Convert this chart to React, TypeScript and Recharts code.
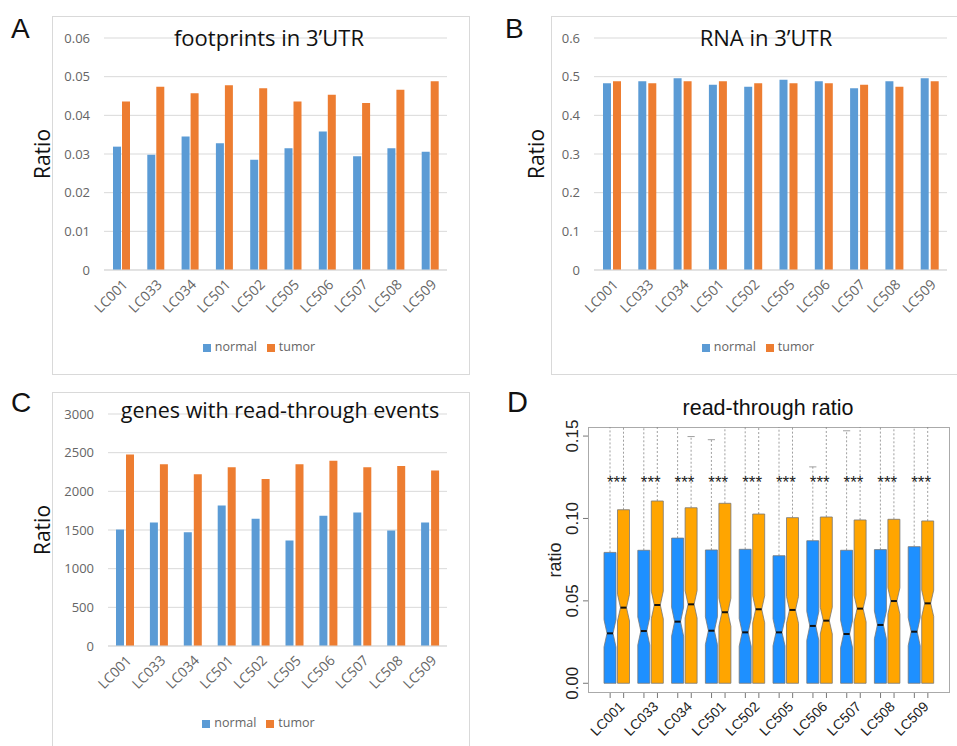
import React from 'react';
import {
  BarChart,
  Bar,
  XAxis,
  YAxis,
  CartesianGrid,
  Legend,
  ComposedChart,
  Scatter,
} from 'recharts';

// ---------- data ----------
const SAMPLES = ['LC001', 'LC033', 'LC034', 'LC501', 'LC502', 'LC505', 'LC506', 'LC507', 'LC508', 'LC509'];

// A: footprints in 3'UTR
const FOOT_NORMAL = [0.0319, 0.0298, 0.0345, 0.0328, 0.0285, 0.0315, 0.0358, 0.0294, 0.0315, 0.0306];
const FOOT_TUMOR = [0.0436, 0.0474, 0.0457, 0.0478, 0.047, 0.0436, 0.0453, 0.0432, 0.0466, 0.0488];
const FOOT_TICKS = [0, 0.01, 0.02, 0.03, 0.04, 0.05, 0.06];

// B: RNA in 3'UTR
const RNA_NORMAL = [0.483, 0.488, 0.496, 0.479, 0.474, 0.492, 0.488, 0.47, 0.488, 0.496];
const RNA_TUMOR = [0.488, 0.483, 0.488, 0.488, 0.483, 0.483, 0.483, 0.479, 0.474, 0.488];
const RNA_TICKS = [0, 0.1, 0.2, 0.3, 0.4, 0.5, 0.6];

// C: genes with read-through events
const GENES_NORMAL = [1506, 1597, 1472, 1818, 1645, 1364, 1684, 1727, 1494, 1597];
const GENES_TUMOR = [2476, 2351, 2221, 2312, 2160, 2351, 2394, 2312, 2329, 2268];
const GENES_TICKS = [0, 500, 1000, 1500, 2000, 2500, 3000];

// D: read-through ratio (notched box plots; lower quartile at 0)
const RT_NORMAL_Q3 = [0.0794, 0.0807, 0.0881, 0.0809, 0.0813, 0.0774, 0.0865, 0.0807, 0.0811, 0.0829];
const RT_NORMAL_MED = [0.0303, 0.0317, 0.0374, 0.0319, 0.0309, 0.0309, 0.0348, 0.0299, 0.0354, 0.0313];
const RT_NORMAL_NOTCH = [0.0083, 0.0085, 0.0088, 0.0084, 0.0084, 0.0082, 0.0087, 0.0084, 0.0084, 0.0085];
const RT_NORMAL_WHISKER = [0.17, 0.17, 0.17, 0.1478, 0.17, 0.17, 0.1313, 0.1532, 0.17, 0.17];
const RT_TUMOR_Q3 = [0.1053, 0.1106, 0.1065, 0.1092, 0.1027, 0.1005, 0.1009, 0.0991, 0.0995, 0.0985];
const RT_TUMOR_MED = [0.0459, 0.0475, 0.0479, 0.0431, 0.0449, 0.0445, 0.038, 0.0453, 0.0499, 0.0485];
const RT_TUMOR_NOTCH = [0.0081, 0.0084, 0.0083, 0.0085, 0.0082, 0.0081, 0.0081, 0.008, 0.008, 0.008];
const RT_TUMOR_WHISKER = [0.17, 0.17, 0.1497, 0.17, 0.17, 0.17, 0.17, 0.17, 0.17, 0.17];
const RT_SIG = ['***', '***', '***', '***', '***', '***', '***', '***', '***', '***'];
const RT_SIG_Y = 0.1247;
const RT_TICKS = [0, 0.05, 0.1, 0.15];
const RT_DOMAIN: [number, number] = [-0.0059, 0.1555];

// ---------- tables ----------
const footData = SAMPLES.map((name, i) => ({ name, normal: FOOT_NORMAL[i], tumor: FOOT_TUMOR[i] }));
const rnaData = SAMPLES.map((name, i) => ({ name, normal: RNA_NORMAL[i], tumor: RNA_TUMOR[i] }));
const genesData = SAMPLES.map((name, i) => ({ name, normal: GENES_NORMAL[i], tumor: GENES_TUMOR[i] }));
const rtData = SAMPLES.map((name, i) => ({
  name,
  nQ3: RT_NORMAL_Q3[i],
  nMed: RT_NORMAL_MED[i],
  nNotch: RT_NORMAL_NOTCH[i],
  nWhisk: RT_NORMAL_WHISKER[i],
  tQ3: RT_TUMOR_Q3[i],
  tMed: RT_TUMOR_MED[i],
  tNotch: RT_TUMOR_NOTCH[i],
  tWhisk: RT_TUMOR_WHISKER[i],
  sig: RT_SIG[i],
  sigY: RT_SIG_Y,
}));

// ---------- styles ----------
const XL_FONT = '"Open Sans", "Noto Sans", sans-serif';
const R_FONT = '"Liberation Sans", Arial, sans-serif';
const XL_BLUE = '#5B9BD5';
const XL_ORANGE = '#ED7D31';
const XL_GRID = '#D9D9D9';
const XL_TEXT = '#656565';
const R_BLUE = '#1E90FF';
const R_ORANGE = '#FFA500';
const BOX_W = 12;
const BOX_GAP = 1.5;

const XlXTick = (props: any) => {
  const { x, y, payload } = props;
  const ax = x + 4;
  const ay = y + 12;
  return (
    <text
      x={ax}
      y={ay}
      dy="0.35em"
      transform={`rotate(-45 ${ax} ${ay})`}
      textAnchor="end"
      fontSize={14}
      fontFamily={XL_FONT}
      fill={XL_TEXT}
    >
      {payload.value}
    </text>
  );
};

const legendFormatter = (v: string) => <span style={{ color: XL_TEXT }}>{v}</span>;

type XlProps = {
  data: any[];
  ticks: number[];
  width: number;
  marginLeft: number;
  yAxisWidth: number;
  labelOffset: number;
  barGap: number;
};

const XlBarChart = ({ data, ticks, width, marginLeft, yAxisWidth, labelOffset, barGap }: XlProps) => (
  <BarChart
    width={width}
    height={358}
    data={data}
    margin={{ top: 22, right: 23, left: marginLeft, bottom: 17 }}
    barGap={barGap}
  >
    <CartesianGrid horizontal vertical={false} stroke={XL_GRID} strokeWidth={1} />
    <XAxis
      dataKey="name"
      height={67}
      tickLine={false}
      tickSize={0}
      tickMargin={0}
      axisLine={{ stroke: XL_GRID }}
      interval={0}
      tick={<XlXTick />}
    />
    <YAxis
      width={yAxisWidth}
      domain={[ticks[0], ticks[ticks.length - 1]]}
      ticks={ticks}
      interval={0}
      tickLine={false}
      axisLine={false}
      tickSize={0}
      tickMargin={14}
      tick={{ fontSize: 13, fontFamily: XL_FONT, fill: XL_TEXT }}
      label={{
        value: 'Ratio',
        angle: -90,
        position: 'insideLeft',
        offset: labelOffset,
        style: { textAnchor: 'middle', fontSize: 21, fontFamily: XL_FONT, fill: '#111' },
      }}
    />
    <Legend
      verticalAlign="bottom"
      align="center"
      iconType="square"
      iconSize={8}
      formatter={legendFormatter}
      wrapperStyle={{ fontSize: 12.5, fontFamily: XL_FONT, height: 20, lineHeight: '20px' }}
    />
    <Bar dataKey="normal" name="normal" fill={XL_BLUE} barSize={8} isAnimationActive={false} />
    <Bar dataKey="tumor" name="tumor" fill={XL_ORANGE} barSize={8} isAnimationActive={false} />
  </BarChart>
);

// ---------- panel D helpers ----------
const makeBoxShape = (prefix: 'n' | 't', fill: string) => (props: any) => {
  const { x, y, width, height, payload } = props;
  const q3 = payload[prefix + 'Q3'];
  const med = payload[prefix + 'Med'];
  const notch = payload[prefix + 'Notch'];
  const whisk = payload[prefix + 'Whisk'];
  const ppu = height / q3;
  const base = y + height;
  const py = (v: number) => base - v * ppu;
  const topPx = py(RT_DOMAIN[1]);
  const medPx = py(med);
  const nLo = py(med - notch);
  const nHi = py(med + notch);
  const wPx = py(whisk);
  const wDraw = Math.max(wPx, topPx);
  const cx = x + width / 2;
  const inset = width / 4;
  const d = `M${x},${base} L${x},${nLo} L${x + inset},${medPx} L${x},${nHi} L${x},${y} L${x + width},${y} L${x + width},${nHi} L${x + width - inset},${medPx} L${x + width},${nLo} L${x + width},${base} Z`;
  return (
    <g>
      <line x1={cx} x2={cx} y1={y} y2={wDraw} stroke="#888" strokeWidth={0.8} strokeDasharray="2 2" />
      {wPx >= topPx && (
        <line x1={cx - width * 0.3} x2={cx + width * 0.3} y1={wPx} y2={wPx} stroke="#888" strokeWidth={0.8} />
      )}
      <path d={d} fill={fill} stroke="#777" strokeWidth={0.8} />
      <line x1={x + inset} x2={x + width - inset} y1={medPx} y2={medPx} stroke="#111" strokeWidth={2} />
    </g>
  );
};

const normalBox = makeBoxShape('n', R_BLUE);
const tumorBox = makeBoxShape('t', R_ORANGE);

const RtXTick = (props: any) => {
  const { x, y, payload } = props;
  const off = (BOX_W + BOX_GAP) / 2;
  const ax = x + 5;
  const ay = y + 11;
  return (
    <g>
      <line x1={x - off} x2={x - off} y1={y} y2={y + 5} stroke="#777" />
      <line x1={x + off} x2={x + off} y1={y} y2={y + 5} stroke="#777" />
      <text
        x={ax}
        y={ay}
        dy="0.35em"
        transform={`rotate(-45 ${ax} ${ay})`}
        textAnchor="end"
        fontSize={14}
        fontFamily={R_FONT}
        fill="#222"
      >
        {payload.value}
      </text>
    </g>
  );
};

const RtYTick = (props: any) => {
  const { x, y, payload } = props;
  return (
    <text
      x={x}
      y={y}
      transform={`rotate(-90 ${x} ${y})`}
      textAnchor="middle"
      fontSize={17}
      fontFamily={R_FONT}
      fill="#222"
    >
      {Number(payload.value).toFixed(2)}
    </text>
  );
};

const SigShape = (props: any) => {
  const { cx, cy, payload } = props;
  return (
    <text x={cx} y={cy} dy="0.62em" textAnchor="middle" fontSize={17} fontFamily={R_FONT} fill="#222">
      {payload.sig}
    </text>
  );
};

// ---------- layout ----------
const abs = (left: number, top: number): React.CSSProperties => ({ position: 'absolute', left, top });

const frame = (left: number, top: number, width: number, height: number): React.CSSProperties => ({
  position: 'absolute',
  left,
  top,
  width,
  height,
  border: `1px solid ${XL_GRID}`,
  boxSizing: 'border-box',
});

const panelLetter = (text: string, left: number, top: number, size = 28) => (
  <div
    style={{
      position: 'absolute',
      left,
      top,
      fontFamily: R_FONT,
      fontSize: size,
      lineHeight: `${size}px`,
      color: '#111',
    }}
  >
    {text}
  </div>
);

const title = (text: string, centerX: number, top: number, size: number, font: string) => (
  <div
    style={{
      position: 'absolute',
      left: centerX,
      top,
      transform: 'translateX(-50%)',
      whiteSpace: 'nowrap',
      fontFamily: font,
      fontSize: size,
      lineHeight: `${size}px`,
      color: '#111',
    }}
  >
    {text}
  </div>
);

export default function App() {
  return (
    <div
      style={{
        position: 'fixed',
        left: 0,
        top: 0,
        width: 957,
        height: 746,
        overflow: 'hidden',
        background: '#fff',
      }}
    >
      {/* frames */}
      <div style={frame(52, 16, 418, 359)} />
      <div style={frame(551, 16, 420, 359)} />
      <div style={frame(52, 392, 418, 370)} />

      {/* A */}
      <div style={abs(20, 16)}>
        <XlBarChart data={footData} ticks={FOOT_TICKS} width={450} marginLeft={61} yAxisWidth={23} labelOffset={-38} barGap={1} />
      </div>
      {/* B */}
      <div style={abs(515, 16)}>
        <XlBarChart data={rnaData} ticks={RNA_TICKS} width={455} marginLeft={64} yAxisWidth={15} labelOffset={-42} barGap={2} />
      </div>
      {/* C */}
      <div style={abs(20, 392)}>
        <XlBarChart data={genesData} ticks={GENES_TICKS} width={450} marginLeft={60} yAxisWidth={28} labelOffset={-37} barGap={2} />
      </div>

      {/* D */}
      <div style={{ position: 'absolute', left: 588, top: 427, width: 362, height: 266, border: '1px solid #aaa', boxSizing: 'border-box' }} />
      <div style={abs(540, 395)}>
        <ComposedChart
          width={417}
          height={351}
          data={rtData}
          margin={{ top: 32, right: 7, left: 0, bottom: 0 }}
          barGap={BOX_GAP}
        >
          <XAxis
            dataKey="name"
            height={53}
            padding={{ left: 12, right: 12 }}
            tickLine={false}
            axisLine={false}
            tickSize={0}
            tickMargin={0}
            interval={0}
            tick={<RtXTick />}
          />
          <YAxis
            width={48}
            domain={RT_DOMAIN}
            allowDataOverflow
            ticks={RT_TICKS}
            interval={0}
            axisLine={false}
            tickLine={{ stroke: '#777' }}
            tickSize={5}
            tickMargin={5}
            tick={<RtYTick />}
            label={{
              value: 'ratio',
              angle: -90,
              position: 'insideLeft',
              offset: 15,
              style: { textAnchor: 'middle', fontSize: 18, fontFamily: R_FONT, fill: '#222' },
            }}
          />
          <Bar dataKey="nQ3" barSize={BOX_W} shape={normalBox} isAnimationActive={false} />
          <Bar dataKey="tQ3" barSize={BOX_W} shape={tumorBox} isAnimationActive={false} />
          <Scatter dataKey="sigY" shape={<SigShape />} isAnimationActive={false} />
        </ComposedChart>
      </div>

      {/* titles & letters */}
      {title('footprints in 3’UTR', 269, 26, 22, XL_FONT)}
      {title('RNA in 3’UTR', 766, 26, 22, XL_FONT)}
      {title('genes with read-through events', 280, 399, 21.5, XL_FONT)}
      {title('read-through ratio', 768, 398, 21.5, R_FONT)}
      {panelLetter('A', 11, 15)}
      {panelLetter('B', 505, 15)}
      {panelLetter('C', 11, 389)}
      {panelLetter('D', 507, 388, 29)}
    </div>
  );
}
